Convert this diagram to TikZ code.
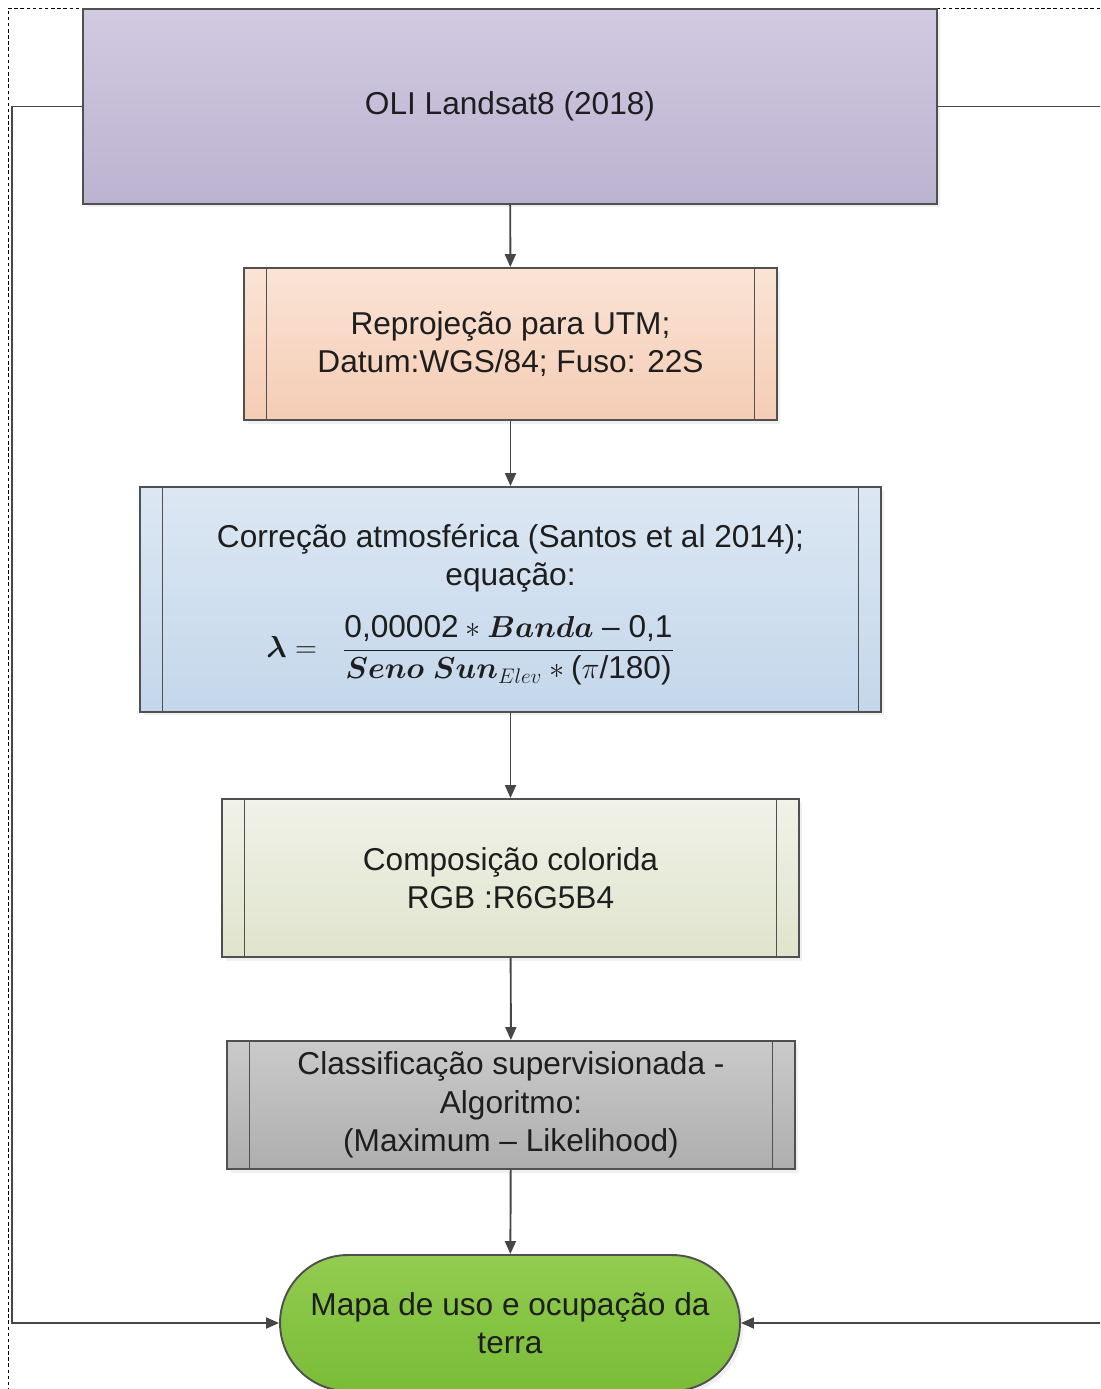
\documentclass[tikz,border=0pt]{standalone}
\usepackage{amsmath}
\usepackage{bm}
\usepackage{fontspec}
\setmainfont{Liberation Sans}
\usetikzlibrary{arrows.meta,shapes.misc,shadows}

\definecolor{borda}{RGB}{80,80,80}
\definecolor{linha}{RGB}{70,70,70}
\definecolor{texto}{RGB}{30,30,30}
\definecolor{lilasA}{RGB}{209,202,224}
\definecolor{lilasB}{RGB}{188,179,209}
\definecolor{pessegoA}{RGB}{250,228,214}
\definecolor{pessegoB}{RGB}{245,204,180}
\definecolor{azulA}{RGB}{220,231,243}
\definecolor{azulB}{RGB}{196,215,235}
\definecolor{verdeclaroA}{RGB}{240,242,231}
\definecolor{verdeclaroB}{RGB}{223,228,205}
\definecolor{cinzaA}{RGB}{202,202,202}
\definecolor{cinzaB}{RGB}{174,174,174}
\definecolor{verdeA}{RGB}{146,204,80}
\definecolor{verdeB}{RGB}{122,188,56}

% digits and signs of the equation in the text font
\newcommand{\txtnum}[1]{\text{#1}}

\tikzset{
  caixa/.style={draw=borda, line width=1.1pt, text=texto, align=center,
    font=\fontsize{18}{21.8}\selectfont, inner sep=0pt,
    drop shadow={opacity=0.12, shadow xshift=2pt, shadow yshift=-2pt}},
  processo/.style={caixa, path picture={
    \draw[borda, line width=0.7pt]
      ([xshift=0.45cm]path picture bounding box.north west) --
      ([xshift=0.45cm]path picture bounding box.south west);
    \draw[borda, line width=0.7pt]
      ([xshift=-0.45cm]path picture bounding box.north east) --
      ([xshift=-0.45cm]path picture bounding box.south east);
  }},
  seta/.style={draw=linha, line width=1.1pt, -{Triangle[length=0.26cm,width=0.22cm]}},
  moldura/.style={black, line width=0.4pt, dash pattern=on 2pt off 1.5pt}
}

\begin{document}
\begin{tikzpicture}[x=0.02cm,y=-0.02cm]

    % page frame (same proportions as the reference)
    \useasboundingbox (0,0) rectangle (1100,1389);
    \clip (0,0) rectangle (1100,1389);
    \draw[moldura] (1100,8) -- (8,8) -- (8,1389);

    % Step 1: input image
    \node[caixa, top color=lilasA, bottom color=lilasB,
          minimum width=17.08cm, minimum height=3.9cm]
          (oli) at (510,106.5) {OLI Landsat8 (2018)};

    % Step 2: reprojection
    \node[processo, top color=pessegoA, bottom color=pessegoB,
          minimum width=10.66cm, minimum height=3.04cm]
          (reproj) at (510.5,344) {Reproje\c{c}\~ao para UTM;\\Datum:WGS/84; Fuso: 22S};

    % Step 3: atmospheric correction
    \node[processo, top color=azulA, bottom color=azulB,
          minimum width=14.82cm, minimum height=4.5cm]
          (correcao) at (510.5,599.5) {\rule{0pt}{19pt}Corre\c{c}\~ao atmosf\'erica (Santos et al 2014);\\equa\c{c}\~ao:\\[12pt]
          $\displaystyle \bm{\lambda} = \;\; \frac{\txtnum{0,00002} * \bm{Banda} \;\txtnum{-- 0,1}}{\bm{Seno}\ \bm{Sun}_{Elev} * \txtnum{(}\pi\txtnum{/180)}}$\hspace*{1.6cm}};

    % Step 4: colour composite
    \node[processo, top color=verdeclaroA, bottom color=verdeclaroB,
          minimum width=11.54cm, minimum height=3.16cm]
          (composicao) at (510.5,878) {Composi\c{c}\~ao colorida\\RGB :R6G5B4};

    % Step 5: classification
    \node[processo, top color=cinzaA, bottom color=cinzaB,
          minimum width=11.36cm, minimum height=2.56cm]
          (classif) at (511,1105) {Classifica\c{c}\~ao supervisionada -\\Algoritmo:\\(Maximum -- Likelihood)};

    % Step 6: final map (terminator)
    \node[caixa, rounded rectangle, top color=verdeA, bottom color=verdeB,
          minimum width=9.2cm, minimum height=2.72cm]
          (mapa) at (510,1323) {Mapa de uso e ocupa\c{c}\~ao da\\terra};

    % Vertical flow
    \draw[seta] (oli) -- (reproj);
    \draw[seta] (reproj) -- (correcao);
    \draw[seta] (correcao) -- (composicao);
    \draw[seta] (composicao) -- (classif);
    \draw[seta] (classif) -- (mapa);

    % Side connectors
    \coordinate (esq) at (12,105);
    \coordinate (dir) at (1110,105);
    \draw[seta] (oli.west) -- (oli.west -| esq) |- (mapa.west);
    \draw[seta] (oli.east) -- (oli.east -| dir) |- (mapa.east);

\end{tikzpicture}
\end{document}
